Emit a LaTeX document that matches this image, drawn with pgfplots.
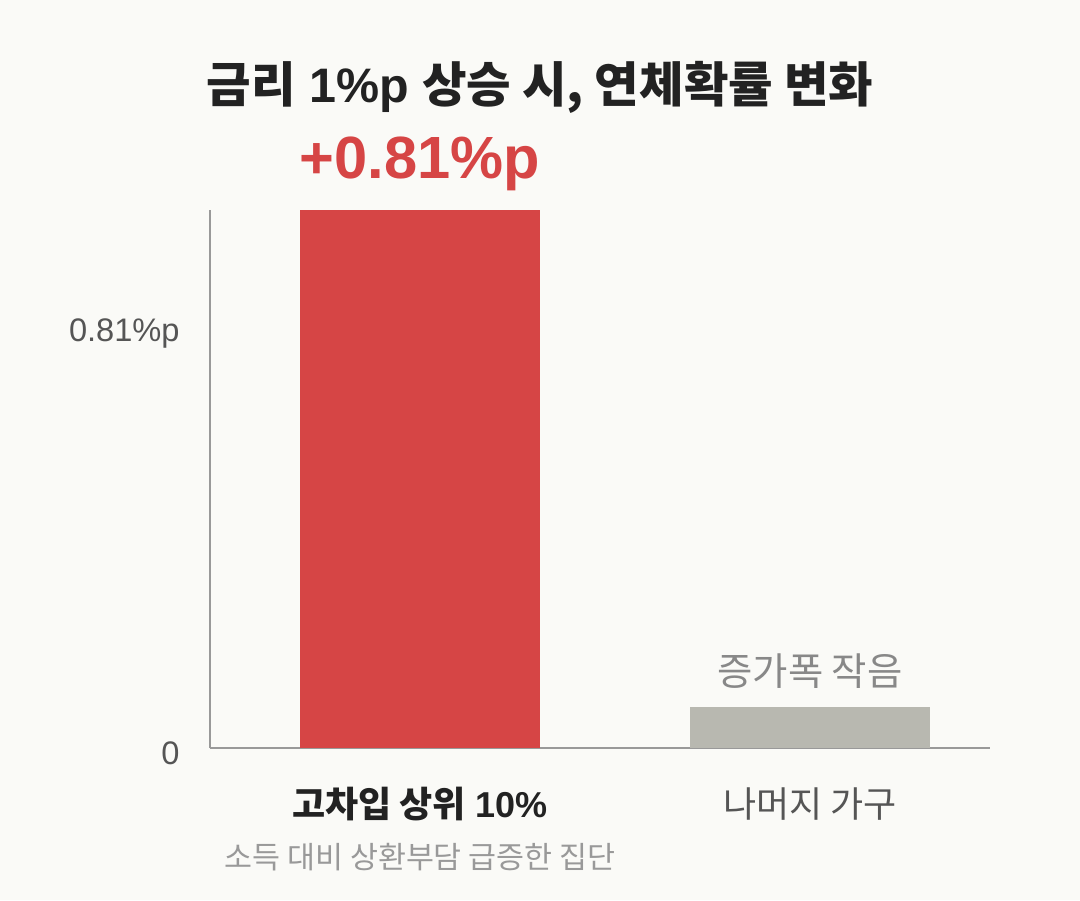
\documentclass[border=0pt]{standalone}
\usepackage{pgfplots}
\pgfplotsset{compat=1.18}
\usepackage{fontspec}
\setmainfont{Liberation Sans}
\newfontfamily\kr{Noto Sans CJK KR}

\definecolor{bg}{HTML}{FAFAF7}
\definecolor{barred}{HTML}{D64545}
\definecolor{bargray}{HTML}{B8B8B0}
\definecolor{axisgray}{HTML}{999999}
\definecolor{titlecol}{HTML}{222222}
\definecolor{tickcol}{HTML}{555555}
\definecolor{subcol}{HTML}{999999}
\definecolor{notecol}{HTML}{888888}

\begin{document}
\begin{tikzpicture}
\fill[bg] (-105pt,-76pt) rectangle (435pt,374pt);
\useasboundingbox (-105pt,-76pt) rectangle (435pt,374pt);
\begin{axis}[
    at={(0,0)}, anchor=south west,
    scale only axis,
    width=390pt, height=269pt,
    xmin=-0.5385, xmax=1.4615,
    ymin=0, ymax=1.04,
    axis x line*=bottom, axis y line*=left,
    axis line style={draw=axisgray, line width=1.2pt, -},
    major tick length=0pt,
    xtick={0,1},
    xticklabels={{\bfseries\color{titlecol}{\kr 고차입 상위} 10\%},{\color{tickcol}\kr 나머지 가구}},
    xticklabel style={anchor=base, yshift=-34.5pt, font=\fontsize{18}{22}\selectfont, inner sep=0pt},
    ytick={0,0.81},
    yticklabels={0,0.81\%p},
    yticklabel style={anchor=east, inner sep=0pt, xshift=-15pt, yshift=-2.5pt,
        font=\fontsize{16.3}{19}\selectfont, text=tickcol},
    clip=false,
]
\addplot[ybar, bar width=120pt, bar shift=0pt, fill=barred, draw=none]
    coordinates {(0,1.04)};
\addplot[ybar, bar width=120pt, bar shift=0pt, fill=bargray, draw=none]
    coordinates {(1,0.079)};

\node[anchor=base, text=barred, font=\fontsize{29.8}{34}\selectfont\bfseries]
    at (axis cs:0,1.04) [yshift=15.5pt] {+0.81\%p};
\node[anchor=base, text=notecol, font=\fontsize{19.2}{23}\selectfont\kr]
    at (axis cs:1,0.079) [yshift=11pt] {증가폭 작음};
\node[anchor=base, text=subcol, font=\fontsize{15.2}{18}\selectfont\kr]
    at (axis cs:0,0) [yshift=-60pt] {소득 대비 상환부담 급증한 집단};
\end{axis}
\node[anchor=base, text=titlecol, font=\fontsize{24.2}{29}\selectfont\bfseries]
    at (165pt,322.5pt) {{\kr 금리} 1\%p {\kr 상승 시, 연체확률 변화}};
\end{tikzpicture}
\end{document}
